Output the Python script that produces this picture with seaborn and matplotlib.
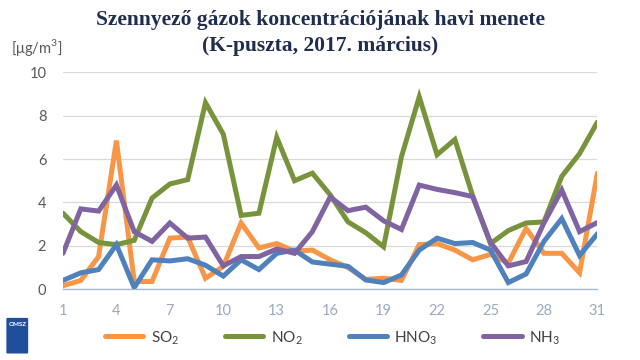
import pandas as pd
import numpy as np
import matplotlib
matplotlib.use('Agg')
import matplotlib.pyplot as plt
import seaborn as sns
from matplotlib.patches import FancyBboxPatch

days = list(range(1, 32))
so2 = [0.15, 0.4, 1.5, 6.85, 0.35, 0.35, 2.35, 2.4, 0.5, 1.05,
       3.05, 1.9, 2.1, 1.75, 1.8, 1.35, 1.0, 0.45, 0.5, 0.4,
       2.05, 2.1, 1.8, 1.35, 1.6, 1.2, 2.8, 1.65, 1.65, 0.75, 5.35]
no2 = [3.5, 2.65, 2.15, 2.05, 2.25, 4.2, 4.85, 5.05, 8.6, 7.15,
       3.4, 3.5, 7.0, 5.0, 5.35, 4.35, 3.1, 2.6, 1.95, 6.1,
       8.87, 6.2, 6.9, 4.3, 2.1, 2.7, 3.05, 3.1, 5.2, 6.25, 7.7]
hno3 = [0.4, 0.75, 0.9, 2.05, 0.07, 1.35, 1.3, 1.4, 1.1, 0.6,
        1.35, 0.9, 1.65, 1.8, 1.25, 1.15, 1.05, 0.42, 0.3, 0.65,
        1.8, 2.35, 2.1, 2.15, 1.8, 0.3, 0.7, 2.2, 3.25, 1.55, 2.55]
nh3 = [1.65, 3.7, 3.6, 4.8, 2.65, 2.2, 3.05, 2.35, 2.4, 1.07,
       1.5, 1.5, 1.85, 1.65, 2.65, 4.25, 3.62, 3.78, 3.15, 2.75,
       4.8, 4.6, 4.45, 4.27, 2.15, 1.07, 1.27, 3.05, 4.57, 2.65, 3.07]

labels = ['SO$_2$', 'NO$_2$', 'HNO$_3$', 'NH$_3$']
colors = ['#F79646', '#77933C', '#4F81BD', '#8064A2']

df = pd.DataFrame({'nap': days * 4,
                   'ertek': so2 + no2 + hno3 + nh3,
                   'gaz': [l for l in labels for _ in days]})

sns.set_style('white')
plt.rcParams['font.family'] = ['Lato', 'DejaVu Sans']
plt.rcParams['mathtext.fontset'] = 'custom'
plt.rcParams['mathtext.rm'] = 'Lato'

fig = plt.figure(figsize=(6.4, 3.6), dpi=100)
ax = fig.add_axes([0.0984, 0.197, 0.835, 0.602])

sns.lineplot(data=df, x='nap', y='ertek', hue='gaz', hue_order=labels,
             palette=colors, linewidth=3.6, ax=ax, legend=False,
             solid_joinstyle='miter')

ax.set_xlim(1, 31)
ax.set_ylim(0, 10)
ax.set_yticks(range(0, 11, 2))
ax.set_xticks(range(1, 32, 3))
ax.set_xticks(days, minor=True)
ax.yaxis.grid(True, color='#D9D9D9', linewidth=0.9)
ax.set_axisbelow(True)
for s in ['left', 'right', 'top']:
    ax.spines[s].set_visible(False)
ax.spines['bottom'].set_color('#A9B9CE')
ax.spines['bottom'].set_linewidth(1.0)
ax.tick_params(axis='x', which='both', direction='out', length=5,
               color='#A9B9CE', labelcolor='#9AAAC0', labelsize=10.5, pad=6)
ax.tick_params(axis='y', length=0, labelcolor='#595959', labelsize=10.5, pad=12)
ax.set_xlabel('')
ax.set_ylabel('')

title_font = ['Liberation Serif', 'DejaVu Serif']
fig.text(0.5, 0.945, 'Szennyező gázok koncentrációjának havi menete',
         ha='center', va='center', fontsize=15.5, fontweight='bold',
         family=title_font, color='#1F2D4E')
fig.text(0.5, 0.873, '(K-puszta, 2017. március)',
         ha='center', va='center', fontsize=15.5, fontweight='bold',
         family=title_font, color='#1F2D4E')
fig.text(0.017, 0.868, '[μg/m$^3$]', ha='left', va='center', fontsize=10.5,
         color='#595959')

handles = [plt.Line2D([], [], color=c, linewidth=3.6, solid_capstyle='round')
           for c in colors]
fig.legend(handles, labels, loc='center', bbox_to_anchor=(0.52, 0.062),
           ncol=4, frameon=False, fontsize=11, handlelength=2.5,
           handletextpad=0.5, columnspacing=3.0, labelcolor='#404040')

# OMSZ logo
logo = FancyBboxPatch((0.012, 0.02), 0.03, 0.095, boxstyle='round,pad=0.002',
                      transform=fig.transFigure, facecolor='#1F4E9C',
                      edgecolor='none')
fig.patches.append(logo)
fig.text(0.027, 0.098, 'OMSZ', ha='center', va='center', fontsize=4.5,
         color='white', fontweight='bold')

fig.savefig('out.png', dpi=100)
